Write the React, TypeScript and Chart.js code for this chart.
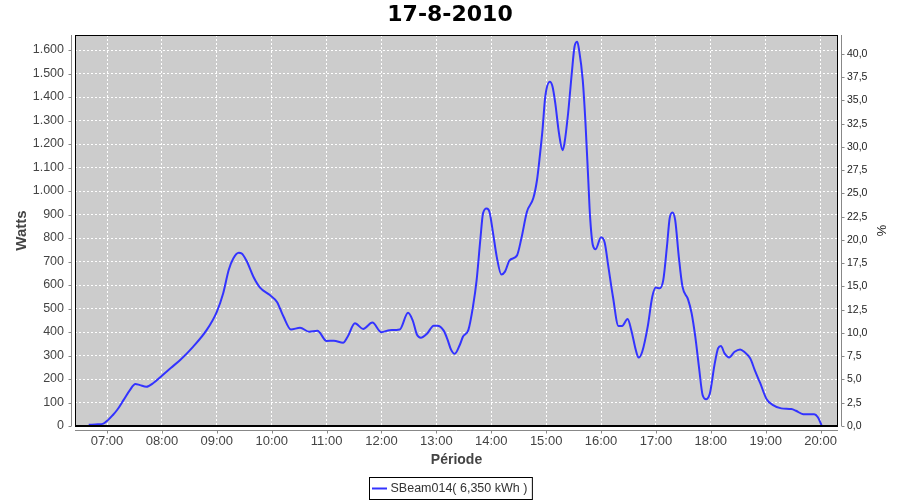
import React, { useEffect, useRef } from "react";
import { Chart, registerables } from "chart.js";

Chart.register(...registerables);

const chartTitle = "17-8-2010";
const seriesName = "SBeam014( 6,350 kWh )";
const xTitle = "Période";
const yLeftTitle = "Watts";
const yRightTitle = "%";

const times = [
  "06:40", "06:50", "06:56", "07:01", "07:06", "07:11", "07:18", "07:25", "07:31", "07:36",
  "07:43", "07:51", "08:00", "08:10", "08:20", "08:34", "08:49", "09:00", "09:07", "09:13",
  "09:18", "09:24", "09:27", "09:33", "09:40", "09:47", "09:58", "10:06", "10:09", "10:13",
  "10:21", "10:31", "10:41", "10:50", "11:00", "11:08", "11:18", "11:23", "11:31", "11:40",
  "11:50", "12:00", "12:09", "12:20", "12:29", "12:34", "12:39", "12:43", "12:50", "12:57",
  "13:01", "13:08", "13:12", "13:16", "13:20", "13:26", "13:29", "13:35", "13:40", "13:44",
  "13:48", "13:51", "13:55", "13:58", "14:02", "14:06", "14:11", "14:15", "14:20", "14:28",
  "14:33", "14:39", "14:46", "14:50", "14:53", "14:56", "14:59", "15:04", "15:07", "15:10",
  "15:14", "15:18", "15:20", "15:24", "15:28", "15:31", "15:34", "15:36", "15:40", "15:43",
  "15:46", "15:48", "15:51", "15:54", "16:00", "16:04", "16:08", "16:13", "16:19", "16:23",
  "16:29", "16:33", "16:38", "16:41", "16:45", "16:51", "16:56", "17:00", "17:04", "17:08",
  "17:12", "17:15", "17:18", "17:21", "17:25", "17:29", "17:35", "17:39", "17:43", "17:47",
  "17:51", "17:55", "17:59", "18:04", "18:08", "18:11", "18:15", "18:20", "18:26", "18:32",
  "18:37", "18:43", "18:48", "18:54", "19:01", "19:08", "19:17", "19:28", "19:33", "19:41",
  "19:53", "19:57", "20:01",
];

const watts = [
  5, 7, 10, 25, 45, 68, 110, 153, 179, 174,
  167, 184, 214, 248, 281, 337, 409, 486, 565, 664,
  713, 737, 735, 699, 635, 590, 557, 527, 501, 465,
  411, 418, 401, 405, 362, 363, 354, 380, 437, 413,
  440, 399, 408, 411, 482, 451, 387, 376, 394, 427,
  427, 406, 370, 325, 307, 349, 380, 409, 508, 621,
  791, 905, 926, 912, 820, 720, 645, 657, 705, 725,
  800, 912, 970, 1047, 1146, 1260, 1401, 1465, 1444, 1373,
  1246, 1174, 1203, 1331, 1501, 1614, 1635, 1600, 1472, 1288,
  1050, 891, 770, 752, 803, 780, 678, 550, 426, 426,
  455, 409, 323, 291, 316, 423, 550, 589, 586, 621,
  763, 884, 909, 877, 720, 593, 540, 480, 380, 252,
  132, 114, 139, 260, 331, 340, 309, 292, 316, 326,
  314, 288, 238, 182, 114, 89, 75, 72, 65, 50,
  50, 37, 4,
];

const hourLabels = [
  "07:00", "08:00", "09:00", "10:00", "11:00", "12:00", "13:00",
  "14:00", "15:00", "16:00", "17:00", "18:00", "19:00", "20:00",
];
const wattTicks = [0, 100, 200, 300, 400, 500, 600, 700, 800, 900, 1000, 1100, 1200, 1300, 1400, 1500, 1600];
const pctTicks = [0, 2.5, 5, 7.5, 10, 12.5, 15, 17.5, 20, 22.5, 25, 27.5, 30, 32.5, 35, 37.5, 40];

const xMinTime = "06:25";
const xMaxTime = "20:19";
const wattMax = 1664;
const pctMax = 42.04;

const lineColor = "#3333FF";
const plotBg = "#CCCCCC";
const axisGray = "#888888";
const labelColor = "#444444";

const toMin = (s: string) => {
  const [h, m] = s.split(":").map(Number);
  return h * 60 + m;
};

const fmtWatts = (v: number) => {
  const s = String(Math.round(v));
  return s.length > 3 ? s.slice(0, s.length - 3) + "." + s.slice(s.length - 3) : s;
};

const framePlugin = {
  id: "frame",
  beforeDraw(chart: any) {
    const { ctx, chartArea: a } = chart;
    ctx.save();
    ctx.fillStyle = plotBg;
    ctx.fillRect(a.left, a.top, a.right - a.left, a.bottom - a.top);
    ctx.restore();
  },
  afterDraw(chart: any) {
    const { ctx, chartArea: a, scales } = chart;
    ctx.save();
    ctx.strokeStyle = "#000";
    ctx.lineWidth = 1;
    ctx.strokeRect(a.left + 0.5, a.top + 0.5, a.right - a.left - 1, a.bottom - a.top);
    ctx.beginPath();
    ctx.lineWidth = 2;
    ctx.moveTo(a.left, a.bottom);
    ctx.lineTo(a.right, a.bottom);
    ctx.stroke();

    ctx.strokeStyle = axisGray;
    ctx.lineWidth = 1;
    const lx = a.left - 4 + 0.5;
    const by = a.bottom + 4 + 0.5;
    const rx = a.right + 3 + 0.5;
    ctx.beginPath();
    ctx.moveTo(lx, a.top);
    ctx.lineTo(lx, a.bottom);
    ctx.moveTo(a.left, by);
    ctx.lineTo(a.right, by);
    ctx.moveTo(rx, a.top);
    ctx.lineTo(rx, a.bottom);
    scales.y.ticks.forEach((t: any) => {
      const y = Math.round(scales.y.getPixelForValue(t.value)) + 0.5;
      ctx.moveTo(lx - 3, y);
      ctx.lineTo(lx, y);
    });
    scales.y2.ticks.forEach((t: any) => {
      const y = Math.round(scales.y2.getPixelForValue(t.value)) + 0.5;
      ctx.moveTo(rx, y);
      ctx.lineTo(rx + 3, y);
    });
    scales.x.ticks.forEach((t: any) => {
      const x = Math.round(scales.x.getPixelForValue(t.value)) + 0.5;
      ctx.moveTo(x, by);
      ctx.lineTo(x, by + 3);
    });
    ctx.stroke();

    ctx.font = "12.5px 'Liberation Sans', Arial, sans-serif";
    const tw = ctx.measureText(seriesName).width;
    const boxW = 21 + tw + 5;
    const boxH = 22;
    const cx = chart.width / 2;
    const bx = Math.round(cx - boxW / 2) + 0.5;
    const byy = 477.5;
    ctx.strokeStyle = "#000";
    ctx.lineWidth = 1;
    ctx.strokeRect(bx, byy, boxW, boxH);
    ctx.strokeStyle = lineColor;
    ctx.lineWidth = 2;
    ctx.beginPath();
    ctx.moveTo(bx + 2.5, byy + boxH / 2);
    ctx.lineTo(bx + 17.5, byy + boxH / 2);
    ctx.stroke();
    ctx.fillStyle = "#333";
    ctx.textBaseline = "middle";
    ctx.textAlign = "left";
    ctx.fillText(seriesName, bx + 21, byy + boxH / 2 + 0.5);
    ctx.restore();
  },
};

export default function App() {
  const ref = useRef<HTMLCanvasElement | null>(null);

  useEffect(() => {
    document.body.style.margin = "0";
    const canvas = ref.current;
    if (!canvas) return;
    const data = times.map((t, i) => ({ x: toMin(t), y: watts[i] }));
    const gridOpts = { color: "#FFFFFF", lineWidth: 1, drawTicks: false };
    const borderOpts = { display: false, dash: [2, 2] };
    const chart = new Chart(canvas, {
      type: "line",
      data: {
        datasets: [
          {
            label: seriesName,
            data,
            borderColor: lineColor,
            backgroundColor: lineColor,
            borderWidth: 2,
            pointRadius: 0,
            fill: false,
            cubicInterpolationMode: "monotone",
            yAxisID: "y",
          },
        ],
      },
      options: {
        animation: false,
        responsive: false,
        maintainAspectRatio: false,
        devicePixelRatio: 1,
        layout: { padding: 0 },
        plugins: {
          legend: { display: false },
          tooltip: { enabled: false },
          title: {
            display: true,
            text: chartTitle,
            color: "#000",
            font: { family: "'DejaVu Sans', sans-serif", size: 22, weight: "bold" },
            padding: { top: 2, bottom: 35 - 2 - 22 * 1.2 },
          },
        },
        scales: {
          x: {
            type: "linear",
            min: toMin(xMinTime),
            max: toMin(xMaxTime),
            afterBuildTicks: (s: any) => {
              s.ticks = hourLabels.map((l) => ({ value: toMin(l) }));
            },
            afterFit: (s: any) => {
              s.height = 74;
            },
            grid: gridOpts,
            border: borderOpts,
            ticks: {
              autoSkip: false,
              maxRotation: 0,
              padding: 8,
              color: labelColor,
              font: { family: "'Liberation Sans', Arial, sans-serif", size: 13 },
              callback: (_v: any, i: number) => hourLabels[i],
            },
            title: {
              display: true,
              text: xTitle,
              color: labelColor,
              font: { family: "'Liberation Sans', Arial, sans-serif", size: 14, weight: "bold" },
              padding: { top: 0, bottom: 31 },
            },
          },
          y: {
            type: "linear",
            position: "left",
            min: 0,
            max: wattMax,
            afterBuildTicks: (s: any) => {
              s.ticks = wattTicks.map((v) => ({ value: v }));
            },
            afterFit: (s: any) => {
              s.width = 75;
            },
            grid: gridOpts,
            border: borderOpts,
            ticks: {
              autoSkip: false,
              padding: 11,
              color: labelColor,
              font: { family: "'Liberation Sans', Arial, sans-serif", size: 12.5 },
              callback: (v: any) => fmtWatts(Number(v)),
            },
            title: {
              display: true,
              text: yLeftTitle,
              color: labelColor,
              font: { family: "'Liberation Sans', Arial, sans-serif", size: 15, weight: "bold" },
              padding: { top: 13, bottom: 0 },
            },
          },
          y2: {
            type: "linear",
            position: "right",
            min: 0,
            max: pctMax,
            afterBuildTicks: (s: any) => {
              s.ticks = pctTicks.map((v) => ({ value: v }));
            },
            afterFit: (s: any) => {
              s.width = 62;
            },
            grid: { display: false, drawTicks: false },
            border: { display: false },
            ticks: {
              autoSkip: false,
              padding: 9,
              color: "#222",
              font: { family: "'Liberation Sans', Arial, sans-serif", size: 10.5 },
              callback: (v: any) => Number(v).toFixed(1).replace(".", ","),
            },
            title: {
              display: true,
              text: yRightTitle,
              color: "#222",
              font: { family: "'Liberation Sans', Arial, sans-serif", size: 13 },
              padding: { top: 12, bottom: 0 },
            },
          },
        },
      },
      plugins: [framePlugin],
    } as any);
    return () => chart.destroy();
  }, []);

  return (
    <div style={{ position: "absolute", left: 0, top: 0, width: 900, height: 500, background: "#fff" }}>
      <canvas ref={ref} width={900} height={500} style={{ display: "block", width: 900, height: 500 }} />
    </div>
  );
}
